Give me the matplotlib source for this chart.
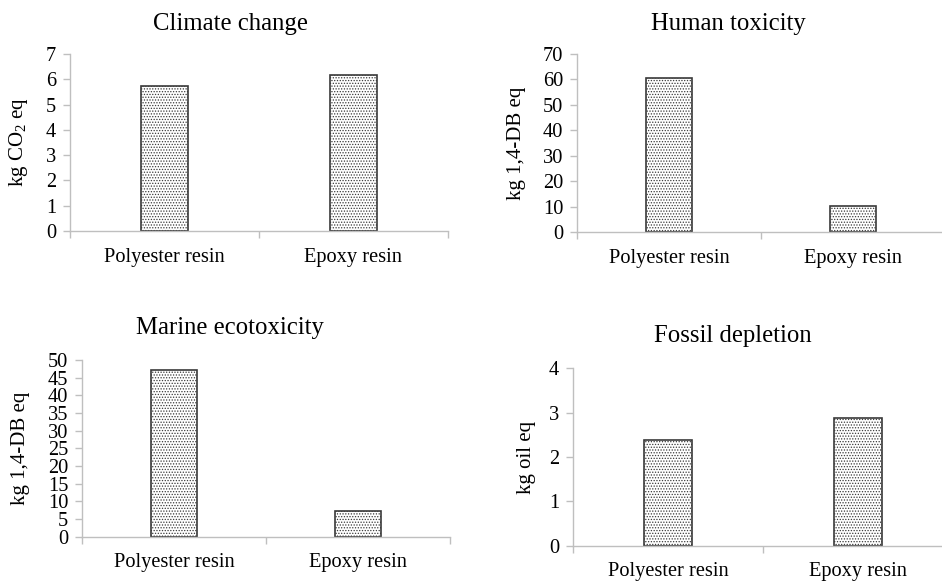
import matplotlib
matplotlib.use("Agg")
import matplotlib.pyplot as plt
from matplotlib.ticker import FixedLocator

plt.rcParams["font.family"] = "Liberation Serif"
plt.rcParams["mathtext.fontset"] = "custom"
plt.rcParams["mathtext.rm"] = "Liberation Serif"
plt.rcParams["hatch.color"] = "#9a9a9a"
plt.rcParams["hatch.linewidth"] = 0.6

materials = ["Polyester resin", "Epoxy resin"]

climate = [5.75, 6.15]
human_tox = [60.5, 10.2]
marine_ecotox = [47.1, 7.2]
fossil = [2.38, 2.89]

titles = ["Climate change", "Human toxicity", "Marine ecotoxicity", "Fossil depletion"]
ylabels = ["kg CO$_2$ eq", "kg 1,4-DB eq", "kg 1,4-DB eq", "kg oil eq"]
ymax = [7, 70, 50, 4]
ystep = [1, 10, 5, 1]

W, H = 942, 583
fig = plt.figure(figsize=(W / 100, H / 100), dpi=100)

# axes boxes in pixels: left, top, right, bottom (y from top)
boxes = [
    (70, 54, 448, 231),
    (577, 54, 945, 232),
    (82, 360, 450, 536.7),
    (573, 368.3, 953, 545.7),
]
title_pos = [(230, 24), (728, 24), (230, 328), (733, 336)]
ylabel_x = [30, 526, 30, 536]

grey = "#bfbfbf"
data = [climate, human_tox, marine_ecotox, fossil]

for i, vals in enumerate(data):
    l, t, r, b = boxes[i]
    ax = fig.add_axes([l / W, (H - b) / H, (r - l) / W, (b - t) / H])
    ax.bar(range(len(materials)), vals, width=0.25, color="white",
           edgecolor="#3a3a3a", linewidth=1.2, hatch="......")
    ax.set_xlim(-0.5, 1.5)
    ax.set_ylim(0, ymax[i])
    ax.set_yticks([k * ystep[i] for k in range(int(ymax[i] / ystep[i]) + 1)])
    ax.set_xticks(range(len(materials)))
    ax.set_xticklabels(materials)
    ax.xaxis.set_minor_locator(FixedLocator([-0.5, 0.5, 1.5]))
    ax.tick_params(axis="x", which="major", length=0, pad=12, labelsize=14.7)
    ax.tick_params(axis="x", which="minor", length=5, color=grey, width=1)
    ax.tick_params(axis="y", length=5, color=grey, width=1, pad=5, labelsize=14.7)
    for s in ["top", "right"]:
        ax.spines[s].set_visible(False)
    for s in ["left", "bottom"]:
        ax.spines[s].set_color(grey)
        ax.spines[s].set_linewidth(1)
    ax.set_ylabel(ylabels[i], fontsize=15)
    ax.yaxis.set_label_coords((ylabel_x[i] - l) / (r - l), 0.5)
    tx, ty = title_pos[i]
    fig.text(tx / W, 1 - ty / H, titles[i], ha="center", va="center", fontsize=17.8)

plt.savefig("out.png", dpi=100)
